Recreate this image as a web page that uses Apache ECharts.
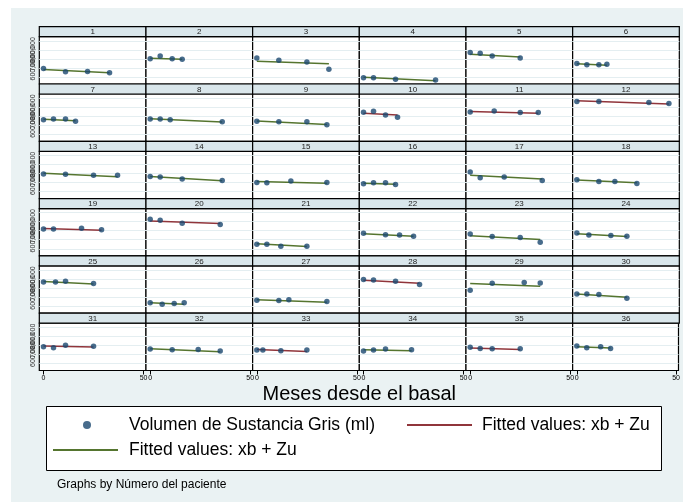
<!DOCTYPE html>
<html>
<head>
<meta charset="utf-8">
<script src="https://cdn.jsdelivr.net/npm/echarts@6/dist/echarts.min.js"></script>
<style>
  html, body { margin: 0; padding: 0; background: #fff; }
  #chart { width: 683px; height: 502px; }
</style>
</head>
<body>
<div id="chart"></div>
<script>
// Número del paciente (one panel per patient)
const pacientes = [1,2,3,4,5,6,7,8,9,10,11,12,13,14,15,16,17,18,19,20,21,22,23,24,25,26,27,28,29,30,31,32,33,34,35,36];

// Meses desde el basal for each visit
const meses = [
  [0,11,22,33], [0,5,11,16], [0,11,25,36], [0,5,16,36], [0,5,11,25], [0,5,11,15],
  [0,5,11,16], [0,5,10,36], [0,11,25,35], [0,5,11,17], [0,12,25,34], [0,11,36,46],
  [0,11,25,37], [0,5,16,36], [0,5,17,35], [0,5,11,16], [0,5,17,36], [0,11,19,30],
  [0,5,19,29], [0,5,16,35], [0,5,12,25], [0,11,18,25], [0,11,25,35], [0,6,17,25],
  [0,6,11,25], [0,6,12,17], [0,11,16,35], [0,5,16,28], [0,11,27,35], [0,5,11,25],
  [0,5,11,25], [0,11,24,35], [0,3,12,25], [0,5,11,24], [0,5,11,25], [0,5,12,17]
];

// Volumen de sustancia gris at each visit
const volumen = [
  [593000,556000,560000,545000], [702000,731000,702000,694000], [709000,683000,664000,585000],
  [489000,489000,473000,466000], [770000,762000,731000,709000], [649000,635000,635000,641000],
  [661000,667000,667000,642000], [667000,667000,661000,638000], [642000,638000,638000,604000],
  [743000,754000,712000,687000], [746000,757000,739000,739000], [863000,863000,851000,840000],
  [693000,690000,679000,679000], [667000,660000,637000,622000], [600000,597000,615000,600000],
  [585000,597000,597000,578000], [716000,653000,660000,622000], [630000,611000,611000,589000],
  [719000,719000,727000,712000], [828000,817000,783000,769000], [551000,551000,528000,528000],
  [671000,656000,652000,640000], [663000,637000,626000,573000], [674000,652000,648000,640000],
  [767000,767000,775000,749000], [536000,520000,528000,536000], [565000,562000,570000,551000],
  [794000,790000,775000,738000], [674000,753000,761000,756000], [633000,633000,629000,588000],
  [685000,674000,700000,689000], [658000,652000,655000,636000], [647000,647000,640000,647000],
  [636000,647000,658000,652000], [678000,666000,663000,663000], [692000,674000,685000,666000]
];

// Fitted values (xb + Zu) at the first and last visit
const ajusteInicio = [582000,706000,672000,496000,751000,646000,664000,672000,645000,731000,751000,870000,
                      701000,667000,611000,592000,679000,626000,724000,809000,555000,667000,645000,667000,
                      772000,536000,570000,787000,749000,633000,692000,663000,655000,652000,670000,685000];
const ajusteFin    = [545000,694000,646000,458000,720000,630000,649000,634000,608000,712000,731000,833000,
                      664000,619000,592000,581000,637000,597000,704000,780000,525000,640000,603000,637000,
                      745000,520000,543000,753000,719000,599000,681000,629000,632000,640000,655000,670000];

// Which fitted-line style each patient uses
const pacientesRojos = [10,11,12,19,20,28,31,33,35];

// Axis ticks
const marcasX = [0, 50];
const marcasY = [500000, 600000, 700000, 800000, 900000];

const NAVY = '#1a476f', MAROON = '#90353b', GREEN = '#55752f';
const NOMBRE_PUNTOS = 'Volumen de Sustancia Gris (ml)';
const NOMBRE_AJUSTE = 'Fitted values: xb + Zu';

// Layout of the 6 x 6 trellis
const COLS = 6;
const plotLeft = 39.3, cellW = 106.67;
const stripTop0 = 26.7, rowH = 57.3, stripH = 10;
const plotH = rowH - stripH;

const grids = [], xAxes = [], yAxes = [], series = [], graphics = [];

graphics.push({
  type: 'rect', z: -100, silent: true,
  shape: { x: 11, y: 8, width: 672, height: 494 },
  style: { fill: '#eaf2f3' }
});

pacientes.forEach((p, i) => {
  const c = i % COLS, r = Math.floor(i / COLS);
  const left = plotLeft + c * cellW;
  const stripTop = stripTop0 + r * rowH;
  const top = stripTop + stripH;
  const lastRow = r === 5, firstCol = c === 0;

  grids.push({
    left: left, top: top, width: cellW, height: plotH,
    show: true, backgroundColor: '#fff', borderColor: '#000', borderWidth: 1.2
  });

  xAxes.push({
    gridIndex: i, type: 'value', min: -2.1, max: 51.2,
    axisLine: { show: false },
    splitLine: { show: false },
    axisTick: { show: lastRow, inside: false, length: 4, lineStyle: { color: '#000' }, customValues: marcasX },
    axisLabel: { show: lastRow, customValues: marcasX, fontSize: 7, color: '#000', margin: 4, fontFamily: 'Liberation Sans' }
  });

  yAxes.push({
    gridIndex: i, type: 'value', min: 421000, max: 945000,
    axisLine: { show: false },
    splitLine: { show: false },
    axisTick: { show: firstCol, inside: false, length: 3, lineStyle: { color: '#000' }, customValues: marcasY },
    axisLabel: { show: firstCol, customValues: marcasY, rotate: 90, fontSize: 7, color: '#333', margin: 3,
                 fontFamily: 'Liberation Sans' }
  });

  const rojo = pacientesRojos.includes(p);
  const t = meses[i], v = volumen[i];

  series.push({
    name: rojo ? 'fitRed' : 'fitGreen',
    type: 'line', xAxisIndex: i, yAxisIndex: i,
    data: [[t[0], ajusteInicio[i]], [t[t.length - 1], ajusteFin[i]]],
    symbol: 'none', silent: true, z: 3,
    lineStyle: { color: rojo ? MAROON : GREEN, width: 1.5 },
    itemStyle: { color: rojo ? MAROON : GREEN },
    markLine: {
      silent: true, symbol: 'none', z: 1,
      label: { show: false },
      lineStyle: { color: '#e4eef1', width: 1, type: 'solid' },
      data: marcasY.map(y => ({ yAxis: y }))
    }
  });

  series.push({
    name: NOMBRE_PUNTOS,
    type: 'scatter', xAxisIndex: i, yAxisIndex: i,
    data: t.map((m, k) => [m, v[k]]),
    symbol: 'circle', symbolSize: 5.5, z: 4,
    itemStyle: { color: NAVY }
  });

  graphics.push({
    type: 'rect', z: 10, silent: true,
    shape: { x: left, y: stripTop, width: cellW, height: stripH },
    style: { fill: '#d9e6eb', stroke: '#000', lineWidth: 1.2 }
  });
  graphics.push({
    type: 'text', z: 11, silent: true,
    x: left + cellW / 2, y: stripTop + stripH / 2 + 0.5,
    style: { text: String(p), fontSize: 8, fill: '#222', align: 'center', verticalAlign: 'middle',
             fontFamily: 'Liberation Sans' }
  });
});

// Axis title, legend box and note
graphics.push({
  type: 'text', z: 11, silent: true,
  x: plotLeft + cellW * 3, y: 394,
  style: { text: 'Meses desde el basal', fontSize: 20, fill: '#000', align: 'center', verticalAlign: 'middle',
           fontFamily: 'Liberation Sans' }
});
graphics.push({
  type: 'rect', z: 5, silent: true,
  shape: { x: 46.5, y: 406.5, width: 615, height: 64 },
  style: { fill: '#fff', stroke: '#000', lineWidth: 1 }
});
graphics.push({
  type: 'text', z: 11, silent: true,
  x: 57, y: 485,
  style: { text: 'Graphs by Número del paciente', fontSize: 12, fill: '#000', align: 'left', verticalAlign: 'middle',
           fontFamily: 'Liberation Sans' }
});

const legendText = { fontSize: 17.5, color: '#000', fontFamily: 'Liberation Sans' };
const legendFmt = n => (n === 'fitRed' || n === 'fitGreen') ? NOMBRE_AJUSTE : n;

const option = {
  backgroundColor: '#fff',
  animation: false,
  grid: grids,
  xAxis: xAxes,
  yAxis: yAxes,
  series: series,
  graphic: { elements: graphics },
  legend: [
    { data: [{ name: NOMBRE_PUNTOS, icon: 'circle' }], left: 83, top: 416, padding: 0, itemWidth: 8, itemHeight: 8,
      textStyle: Object.assign({ padding: [0, 0, 0, 33] }, legendText), formatter: legendFmt, selectedMode: false, z: 20 },
    { data: [{ name: 'fitRed', icon: 'rect' }], left: 407, top: 416, padding: 0, itemWidth: 65, itemHeight: 2,
      textStyle: Object.assign({ padding: [0, 0, 0, 5] }, legendText), formatter: legendFmt, selectedMode: false, z: 20 },
    { data: [{ name: 'fitGreen', icon: 'rect' }], left: 53, top: 441, padding: 0, itemWidth: 65, itemHeight: 2,
      textStyle: Object.assign({ padding: [0, 0, 0, 6] }, legendText), formatter: legendFmt, selectedMode: false, z: 20 }
  ]
};

const chart = echarts.init(document.getElementById('chart'), null, { renderer: 'canvas' });
chart.setOption(option);
</script>
</body>
</html>
